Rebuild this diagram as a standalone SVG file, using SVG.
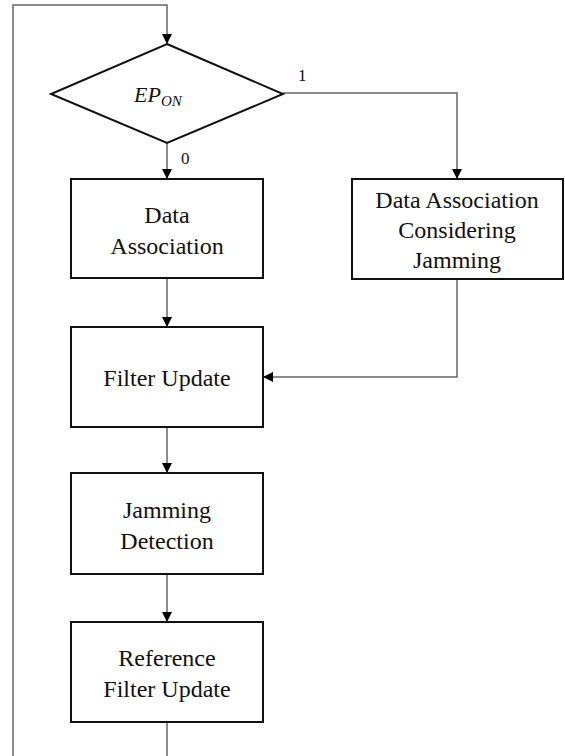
<svg xmlns="http://www.w3.org/2000/svg" width="565" height="756" viewBox="0 0 565 756">
<defs>
<marker id="arr" markerWidth="10" markerHeight="10" refX="10" refY="5" orient="auto" markerUnits="userSpaceOnUse">
<path d="M0,0 L10,5 L0,10 Z" fill="#000"/>
</marker>
<style>
.box{fill:#fff;stroke:#111;stroke-width:2}
.lbl{font-family:"Liberation Serif","Times New Roman",serif;font-size:24px;fill:#111;text-anchor:middle}
.num{font-family:"Liberation Serif","Times New Roman",serif;font-size:17px;fill:#111}
.con{fill:none;stroke:#666;stroke-width:1.5}
</style>
</defs>
<rect width="565" height="756" fill="#fff"/>
<g id="connectors">
<polyline class="con" points="167,756 167,722"/>
<polyline class="con" points="13,756 13,5 167,5 167,44" marker-end="url(#arr)"/>
<polyline class="con" points="167,143 167,179" marker-end="url(#arr)"/>
<polyline class="con" points="283,93 457,93 457,179" marker-end="url(#arr)"/>
<polyline class="con" points="167,278 167,327" marker-end="url(#arr)"/>
<polyline class="con" points="457,279 457,377 263,377" marker-end="url(#arr)"/>
<polyline class="con" points="167,427 167,473" marker-end="url(#arr)"/>
<polyline class="con" points="167,574 167,622" marker-end="url(#arr)"/>
<text class="num" x="298" y="81">1</text>
<text class="num" x="181" y="164">0</text>
</g>
<g id="decision">
<polygon points="167,44 283,94 167,143 51,94" fill="#fff" stroke="#111" stroke-width="2"/>
<text x="134" y="102" font-family="'Liberation Serif','Times New Roman',serif" font-style="italic" font-size="22" fill="#111">EP<tspan font-size="15" dy="4">ON</tspan></text>
</g>
<g id="data-association">
<rect class="box" x="71" y="179" width="192" height="99"/>
<text class="lbl" x="167" y="223">Data</text>
<text class="lbl" x="167" y="254">Association</text>
</g>
<g id="data-association-jamming">
<rect class="box" x="352" y="179" width="211" height="100"/>
<text class="lbl" x="457" y="208">Data Association</text>
<text class="lbl" x="457" y="238">Considering</text>
<text class="lbl" x="457" y="268">Jamming</text>
</g>
<g id="filter-update">
<rect class="box" x="71" y="327" width="192" height="100"/>
<text class="lbl" x="167" y="386">Filter Update</text>
</g>
<g id="jamming-detection">
<rect class="box" x="71" y="473" width="192" height="101"/>
<text class="lbl" x="167" y="518">Jamming</text>
<text class="lbl" x="167" y="549">Detection</text>
</g>
<g id="reference-filter-update">
<rect class="box" x="71" y="622" width="192" height="100"/>
<text class="lbl" x="167" y="666">Reference</text>
<text class="lbl" x="167" y="697">Filter Update</text>
</g>
</svg>
